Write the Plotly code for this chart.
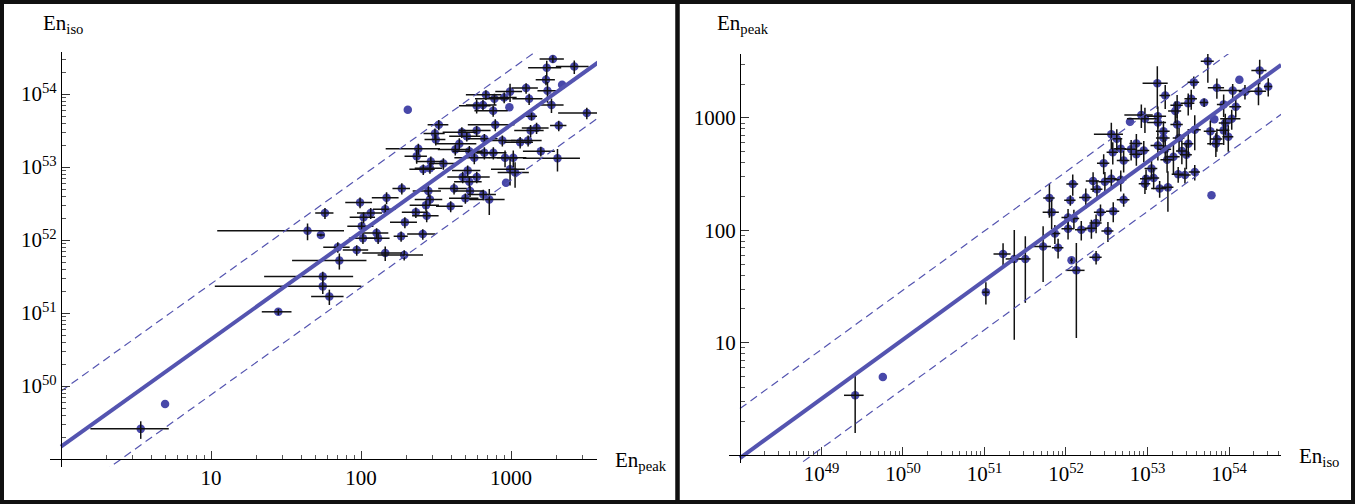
import numpy as np
import plotly.graph_objects as go

# ---------------- data (shared by both panels) ----------------
# peak energy (keV) and its error
ep = [1900, 1730, 2640, 1710, 2190, 1260, 1750, 985, 680, 775,
      900, 1320, 1860, 975, 590, 650, 760, 205, 3200, 1370,
      330, 785, 2080, 1480, 1350, 470, 590, 311, 315, 507,
      664, 875, 1150, 1300, 452, 425, 527, 241, 235, 664,
      762, 569, 1580, 2040, 912, 1035, 292, 354, 260, 288,
      514, 985, 1064, 476, 591, 527, 926, 187, 417, 281,
      533, 653, 148, 288, 496, 716, 271, 396, 145, 232,
      274, 196, 258, 98.5, 116, 57.5, 104, 101, 44, 54,
      127, 103, 130, 185, 70, 93.6, 145, 194, 71.7, 55.6,
      55.6, 61.5, 28.1, 4.94, 3.4]
ep_err = [350, 430, 650, 250, 0, 250, 250, 200, 180, 200,
          190, 300, 380, 0, 140, 150, 190, 0, 1140, 120,
          52, 270, 260, 300, 300, 120, 140, 50, 50, 120,
          150, 200, 250, 300, 135, 100, 120, 95, 40, 150,
          170, 150, 380, 840, 200, 230, 60, 70, 50, 60,
          110, 250, 250, 100, 130, 110, 0, 25, 90, 60,
          120, 140, 30, 60, 110, 190, 60, 80, 25, 45,
          55, 40, 55, 20, 22, 8, 20, 20, 33, 3,
          25, 20, 25, 20, 14, 18, 43, 65, 37, 33,
          45, 15, 6.3, 0, 1.83]
# isotropic energy in units of 1e52 erg and its error
eiso52 = [303, 230, 238, 157, 134, 121, 111, 108, 98, 86,
          90, 86, 71, 66, 69, 71, 59, 61, 55, 49.5,
          38, 38, 37, 34.4, 31.6, 30, 31.6, 28.8, 23.8, 26.4,
          24.4, 23.1, 21.9, 23.1, 20.8, 17.4, 16.5, 17.8, 14.1, 15.7,
          15.7, 13.4, 16.5, 13.2, 13.4, 13.4, 11.9, 11.2, 9.3, 9.6,
          9.0, 9.3, 8.4, 7.3, 7.3, 6.3, 6.1, 5.1, 5.1, 4.7,
          4.7, 4.2, 3.8, 3.6, 3.75, 3.6, 3.0, 2.9, 2.65, 2.4,
          2.15, 1.75, 1.21, 3.27, 2.34, 2.34, 2.05, 1.54, 1.34, 1.17,
          1.25, 1.06, 1.06, 1.13, 0.80, 0.73, 0.667, 0.626, 0.524, 0.317,
          0.232, 0.169, 0.104, 0.00566, 0.00259]
eiso52_err = [35, 55, 50, 25, 0, 20, 35, 30, 15, 15,
              15, 15, 16, 0, 15, 12, 10, 0, 10, 6,
              6, 7, 6, 6, 6, 5, 5, 5, 4, 4,
              4, 4, 4, 4, 4, 3, 3, 3, 3, 3,
              3, 2.5, 2.5, 4.5, 3.5, 3.5, 2, 2, 1.5, 1.5,
              1.5, 3.7, 3.2, 1.3, 1.3, 1.1, 0, 0.9, 0.9, 0.8,
              0.8, 0.7, 0.7, 0.6, 0.6, 1.4, 0.5, 0.5, 0.45, 0.4,
              0.4, 0.3, 0.2, 0.55, 0.4, 0.4, 0.35, 0.25, 0.35, 0.05,
              0.2, 0.18, 0.18, 0.18, 0.13, 0.12, 0.15, 0.1, 0.13, 0.05,
              0.05, 0.04, 0.01, 0, 0.0007]

# fitted relations (log10 intercept, slope, half-width of band in dex)
left_fit = dict(intercept=49.17, slope=1.47, band=0.76)    # log Eiso vs log Ep
right_fit = dict(intercept=-0.027, slope=0.527, band=0.44)  # log Ep vs (log Eiso - 48)

left_xticks = [10, 100, 1000]
left_xticklabels = ["10", "100", "1000"]
left_yexp = [50, 51, 52, 53, 54]
right_yticks = [10, 100, 1000]
right_yticklabels = ["10", "100", "1000"]
right_xexp = [49, 50, 51, 52, 53, 54]

# ---------------- derived ----------------
eiso = [v * 1e52 for v in eiso52]
eiso_err = [v * 1e52 for v in eiso52_err]

W, H = 1363, 504
def PX(x):
    return x / W
def PY(y):
    return 1 - y / H

MARK = "#4848a9"
LINE = "#5454b0"
FONT = "Liberation Serif"

fig = go.Figure()

def add_points(x, y, ex, ey, xa, ya):
    fig.add_trace(go.Scatter(x=x, y=y, mode="markers", xaxis=xa, yaxis=ya,
                             marker=dict(size=8.5, color=MARK), showlegend=False,
                             hoverinfo="skip"))
    fig.add_trace(go.Scatter(x=x, y=y, mode="markers", xaxis=xa, yaxis=ya,
                             marker=dict(size=8, color="rgba(0,0,0,0)"), showlegend=False,
                             error_x=dict(type="data", array=ex, symmetric=True, width=0,
                                          thickness=1.5, color="#111"),
                             error_y=dict(type="data", array=ey, symmetric=True, width=0,
                                          thickness=1.5, color="#111"),
                             hoverinfo="skip"))

add_points(ep, eiso, ep_err, eiso_err, "x", "y")
add_points(eiso, ep, eiso_err, ep_err, "x2", "y2")

# left fit lines
lx_log = np.array([0.0, 3.58])
for off, w, dash in [(0, 4, "solid"), (left_fit["band"], 1.2, "8px,5px"), (-left_fit["band"], 1.2, "8px,5px")]:
    ly = left_fit["intercept"] + left_fit["slope"] * lx_log + off
    fig.add_trace(go.Scatter(x=10 ** lx_log, y=10 ** ly, mode="lines", xaxis="x", yaxis="y",
                             line=dict(color=LINE, width=w, dash=dash), showlegend=False,
                             hoverinfo="skip"))
# right fit lines
rx_log = np.array([48.0, 54.64])
for off, w, dash in [(0, 4, "solid"), (right_fit["band"], 1.2, "8px,5px"), (-right_fit["band"], 1.2, "8px,5px")]:
    ry = right_fit["intercept"] + right_fit["slope"] * (rx_log - 48) + off
    fig.add_trace(go.Scatter(x=10 ** rx_log, y=10 ** ry, mode="lines", xaxis="x2", yaxis="y2",
                             line=dict(color=LINE, width=w, dash=dash), showlegend=False,
                             hoverinfo="skip"))

def minor_vals(lo_exp, hi_exp, top):
    vals = []
    for e in range(lo_exp, hi_exp + 1):
        for k in range(2, 10):
            v = k * 10.0 ** e
            if v <= top:
                vals.append(v)
    return vals

axis_common = dict(type="log", showgrid=False, zeroline=False, showline=True,
                   linecolor="black", linewidth=1.3, ticks="inside", ticklen=8,
                   tickwidth=1.2, tickcolor="#333",
                   tickfont=dict(family=FONT, size=21, color="black"))
minor_common = dict(ticks="inside", ticklen=4, tickwidth=1, tickcolor="#555", showgrid=False)

fig.update_layout(
    xaxis=dict(axis_common, domain=[PX(50), PX(597)], range=[-0.0733, 3.573],
               anchor="free", position=PY(459),
               tickmode="array", tickvals=left_xticks, ticktext=left_xticklabels,
               minor=dict(minor_common, tickmode="array", tickvals=minor_vals(0, 3, 3700))),
    yaxis=dict(axis_common, domain=[PY(467), PY(51.5)], range=[48.891, 54.583],
               anchor="free", position=PX(61),
               tickmode="array", tickvals=[10.0 ** e for e in left_yexp],
               ticktext=["10<sup>%d</sup>" % e for e in left_yexp],
               minor=dict(minor_common, tickmode="array", tickvals=minor_vals(49, 54, 3.8e54))),
    xaxis2=dict(axis_common, domain=[PX(729.3), PX(1281)], range=[47.869, 54.638],
                anchor="free", position=PY(455),
                tickmode="array", tickvals=[10.0 ** e for e in right_xexp],
                ticktext=["10<sup>%d</sup>" % e for e in right_xexp],
                minor=dict(minor_common, tickmode="array", tickvals=minor_vals(48, 54, 4.3e54))),
    yaxis2=dict(axis_common, domain=[PY(463), PY(54)], range=[-0.0712, 3.569],
                anchor="free", position=PX(740),
                tickmode="array", tickvals=right_yticks, ticktext=right_yticklabels,
                minor=dict(minor_common, tickmode="array", tickvals=minor_vals(0, 3, 3700))),
)

ann_font = dict(family=FONT, size=21, color="black")
annotations = [
    dict(text="En<sub>iso</sub>", x=PX(41), y=PY(24), xanchor="left", yanchor="middle"),
    dict(text="En<sub>peak</sub>", x=PX(613), y=PY(461), xanchor="left", yanchor="middle"),
    dict(text="En<sub>peak</sub>", x=PX(715), y=PY(24), xanchor="left", yanchor="middle"),
    dict(text="En<sub>iso</sub>", x=PX(1297), y=PY(457), xanchor="left", yanchor="middle"),
]
for a in annotations:
    a.update(xref="paper", yref="paper", showarrow=False, font=ann_font)

shapes = [
    dict(type="rect", xref="paper", yref="paper", x0=PX(2), x1=PX(677.5), y0=PY(502), y1=PY(2),
         line=dict(color="#111", width=4)),
    dict(type="rect", xref="paper", yref="paper", x0=PX(677.5), x1=PX(1353), y0=PY(502), y1=PY(2),
         line=dict(color="#111", width=4)),
]

fig.update_layout(width=W, height=H, margin=dict(l=0, r=0, t=0, b=0),
                  paper_bgcolor="white", plot_bgcolor="white",
                  annotations=annotations, shapes=shapes, showlegend=False)

fig.write_html("out.html", config={"displayModeBar": False},
               post_script="document.body.style.margin='0';document.body.style.padding='0';"
                           "document.body.style.overflow='hidden';")
